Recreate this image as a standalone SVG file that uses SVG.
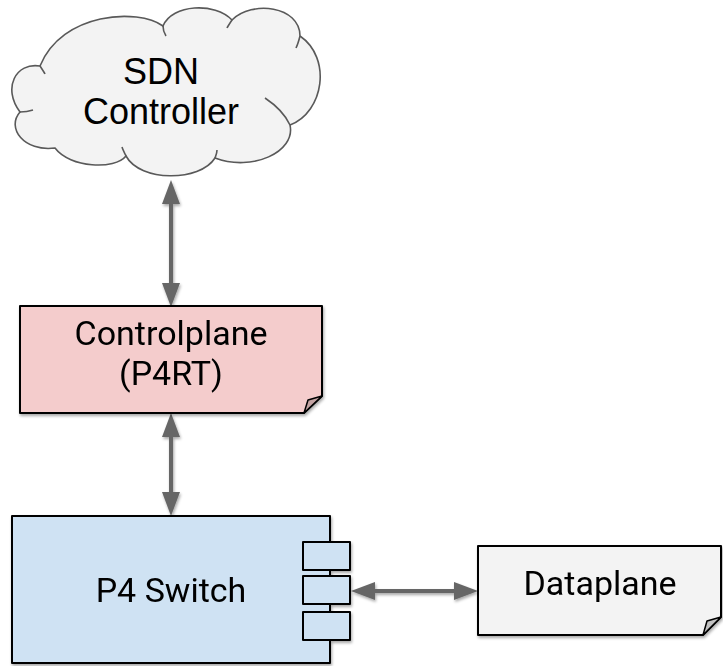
<svg xmlns="http://www.w3.org/2000/svg" width="723" height="666" viewBox="0 0 723 666">
<style>
.lbl{font-family:Roboto,"Liberation Sans",Arial,sans-serif;font-size:34px;fill:#000;text-anchor:middle}
.cloudlbl{font-family:"Liberation Sans",Arial,sans-serif;font-size:36px;fill:#000;text-anchor:middle}
.box{stroke:#000;stroke-width:2;stroke-linejoin:round}
.fold{stroke:#000;stroke-width:1.5;stroke-linejoin:round}
.conn{stroke:#666;stroke-width:4;fill:none}
</style>
<defs>
<filter id="sh" x="-10%" y="-10%" width="130%" height="130%">
<feGaussianBlur in="SourceAlpha" stdDeviation="1.5"/>
<feOffset dx="1" dy="2" result="b"/>
<feComponentTransfer><feFuncA type="linear" slope="0.35"/></feComponentTransfer>
<feMerge><feMergeNode/><feMergeNode in="SourceGraphic"/></feMerge>
</filter>
<marker id="ah" markerUnits="userSpaceOnUse" markerWidth="24" markerHeight="18" viewBox="0 0 24 18" refX="14" refY="9" orient="auto-start-reverse">
<path d="M0,0 L24,9 L0,18 Z" fill="#666"/>
</marker>
</defs>
<g id="connectors" filter="url(#sh)">
<line class="conn" x1="171" y1="190" x2="171" y2="297" marker-start="url(#ah)" marker-end="url(#ah)"/>
<line class="conn" x1="171" y1="423" x2="171" y2="506" marker-start="url(#ah)" marker-end="url(#ah)"/>
<line class="conn" x1="361" y1="591" x2="468" y2="591" marker-start="url(#ah)" marker-end="url(#ah)"/>
</g>
<g id="sdn-controller">
<path d="M40,66 C16,62 2,88 20,112 C6,128 24,152 55,148 C70,168 115,170 126,156 C140,182 200,182 215,158 C252,172 296,152 290,125 C324,112 332,58 300,36 C300,6 252,0 232,20 C215,2 172,4 163,26 C138,8 62,12 40,66 Z" fill="#f3f3f3" stroke="#595959" stroke-width="1.6"/>
<path d="M40,66 C42,69 44,72 45,74 M20,112 C24,112 30,111 33,110 M126,156 C124,152 123,150 122,147 M215,158 C216,155 217,153 217,150 M290,125 C284,112 274,104 265,98 M300,36 C299,40 298,44 296,48 M232,20 C230,23 228,26 227,28 M163,26 C163,30 164,33 166,36" fill="none" stroke="#595959" stroke-width="1.6"/>
<text class="cloudlbl" x="161" y="84">SDN</text>
<text class="cloudlbl" x="161" y="124">Controller</text>
</g>
<g id="controlplane" filter="url(#sh)">
<path class="box" d="M20,306 H322 V396 L304,413 H20 Z" fill="#f4cccc"/>
<path class="fold" d="M322,396 L308,400 L304,413 Z" fill="#c3a3a3"/>
<text class="lbl" x="171" y="345">Controlplane</text>
<text class="lbl" x="171" y="385">(P4RT)</text>
</g>
<g id="p4-switch" filter="url(#sh)">
<rect class="box" x="12" y="516" width="318" height="147" fill="#cfe2f3"/>
<rect class="box" x="303" y="542" width="47" height="28" fill="#cfe2f3"/>
<rect class="box" x="303" y="576" width="47" height="28" fill="#cfe2f3"/>
<rect class="box" x="303" y="612" width="47" height="28" fill="#cfe2f3"/>
<text class="lbl" x="171" y="602">P4 Switch</text>
</g>
<g id="dataplane" filter="url(#sh)">
<path class="box" d="M478,546 H721 V617 L703,635 H478 Z" fill="#f3f3f3"/>
<path class="fold" d="M721,617 L707,621 L703,635 Z" fill="#c2c2c2"/>
<text class="lbl" x="600" y="595">Dataplane</text>
</g>
</svg>
